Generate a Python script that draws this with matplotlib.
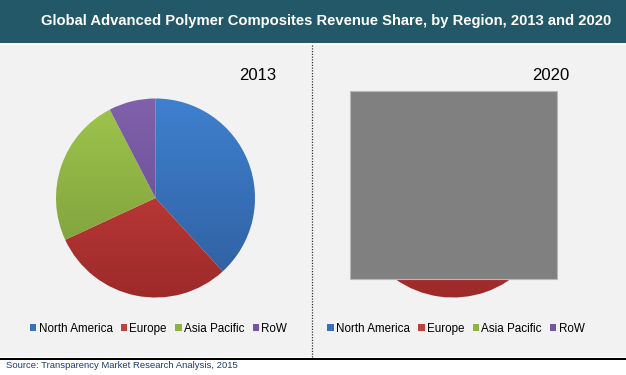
import matplotlib.pyplot as plt
import numpy as np
from matplotlib.colors import LinearSegmentedColormap
from matplotlib.patches import Rectangle

plt.rcParams['font.family'] = ['Liberation Sans', 'DejaVu Sans']

regions = ['North America', 'Europe', 'Asia Pacific', 'RoW']
share_2013 = [38.2, 29.9, 24.3, 7.6]
share_2020 = [37.0, 30.5, 25.5, 7.0]
years = ['2013', '2020']

top_cols = ['#3f80cf', '#d24442', '#9fc64c', '#8061ab']
bot_cols = ['#2f5e9e', '#9c2a29', '#78973a', '#62488a']
legend_cols = ['#3a70b8', '#c0403d', '#8db443', '#7456a0']

W, H = 626, 375


def fx(px):
    return px / W


def fy(py):
    return 1 - py / H


def gradient_pie(ax, values):
    wedges, _ = ax.pie(values, startangle=90, counterclock=False, radius=1,
                       wedgeprops=dict(linewidth=0))
    grad = np.linspace(0, 1, 256).reshape(-1, 1)
    for w, c1, c2 in zip(wedges, top_cols, bot_cols):
        w.set_facecolor('none')
        cmap = LinearSegmentedColormap.from_list('g', [c1, c2])
        im = ax.imshow(grad, cmap=cmap, extent=[-1, 1, -1, 1], origin='upper',
                       aspect='auto', zorder=1)
        im.set_clip_path(w)
    ax.set_xlim(-1.01, 1.01)
    ax.set_ylim(-1.01, 1.01)
    ax.set_aspect('equal')
    ax.axis('off')
    return wedges


fig = plt.figure(figsize=(6.26, 3.75), dpi=100)
fig.patch.set_facecolor('white')

# background panels
fig.patches.append(Rectangle((0, fy(43)), 1, 43 / H, transform=fig.transFigure,
                             facecolor='#235869', edgecolor='none', zorder=-2))
fig.patches.append(Rectangle((0, fy(357)), 1, (357 - 45) / H, transform=fig.transFigure,
                             facecolor='#f2f2f2', edgecolor='none', zorder=-2))
fig.patches.append(Rectangle((0, fy(360)), 1, 2.5 / H, transform=fig.transFigure,
                             facecolor='black', edgecolor='none', zorder=-1))
fig.add_artist(plt.Line2D([fx(312), fx(312)], [fy(357), fy(45)], transform=fig.transFigure,
                          color='#333333', lw=0.9, ls=(0, (1, 1.2)), zorder=-1))

fig.text(fx(326), fy(21), 'Global Advanced Polymer Composites Revenue Share, by Region, 2013 and 2020',
         color='white', fontsize=10.6, fontweight='bold', ha='center', va='center')

pies = [(155.5, share_2013, 258), (453, share_2020, 551)]
for (cx, vals, tx), yr in zip(pies, years):
    r = 100.5
    ax = fig.add_axes([fx(cx - r), fy(198 + r), 2 * r / W, 2 * r / H])
    ax.patch.set_visible(False)
    gradient_pie(ax, vals)
    fig.text(fx(tx), fy(76), yr, fontsize=12, ha='center', va='center', color='black')
    handles = [Rectangle((0, 0), 1, 1, facecolor=c, edgecolor='none') for c in legend_cols]
    fig.legend(handles, regions, loc='center', bbox_to_anchor=(fx(cx + 3), fy(329)),
               ncol=4, frameon=False, fontsize=8.4, handlelength=0.55, handleheight=0.55,
               handletextpad=0.2, columnspacing=0.7, borderpad=0)

# grey box covering the 2020 pie
fig.patches.append(Rectangle((fx(350), fy(279)), (557 - 350) / W, (279 - 91) / H,
                             transform=fig.transFigure, facecolor='#808080',
                             edgecolor='#b8b8b8', lw=0.8, zorder=5))

fig.text(fx(6), fy(366), 'Source: Transparency Market Research Analysis, 2015',
         fontsize=6.8, color='#1f3c6e', ha='left', va='center')

fig.savefig('out.png', dpi=100)
